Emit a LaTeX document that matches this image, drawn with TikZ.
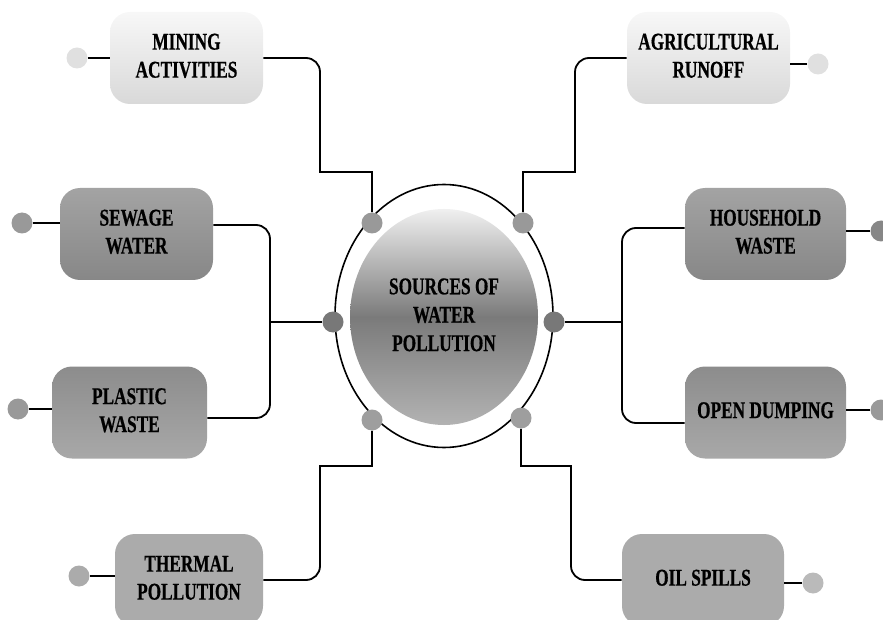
\documentclass[tikz,border=0pt]{standalone}
\usepackage{fontspec}
\setmainfont{Liberation Serif}[BoldFeatures={FakeBold=0.7}]
\usepackage{graphicx}
\usetikzlibrary{shapes.geometric}

\newcommand{\boxtext}[1]{\raisebox{-2.2pt}{\scalebox{0.72}[1]{\begin{tabular}{@{}c@{}}#1\end{tabular}}}}

\tikzset{
	srcbox/.style={rounded corners=10pt, minimum height=46pt, inner sep=0pt,
		font=\fontsize{12}{14}\selectfont\bfseries},
	lightbox/.style={srcbox, top color=black!3, bottom color=black!15},
	darkbox/.style={srcbox, top color=black!36, bottom color=black!47},
	midbox/.style={srcbox, top color=black!45, bottom color=black!34},
	palebox/.style={srcbox, fill=black!33},
	blob/.style={circle, inner sep=0pt, minimum size=10.5pt, fill=#1},
	link/.style={line width=0.9pt},
	stub/.style={line width=1.4pt}
}

\begin{document}
\begin{tikzpicture}[x=0.5pt, y=-0.5pt]
	\useasboundingbox (0,0) rectangle (883,620);
	\clip (0,0) rectangle (883,620);

	\node[lightbox, minimum width=76.5pt] (mining) at (186.5,58) {\boxtext{MINING\\ACTIVITIES}};
	\node[lightbox, minimum width=81.5pt] (agri) at (708.5,58) {\boxtext{AGRICULTURAL\\RUNOFF}};
	\node[darkbox, minimum width=76.5pt] (sewage) at (136.5,234) {\boxtext{SEWAGE\\WATER}};
	\node[darkbox, minimum width=80.5pt] (household) at (765.5,234) {\boxtext{HOUSEHOLD\\WASTE}};
	\node[midbox, minimum width=77.5pt] (plastic) at (129.5,412.5) {\boxtext{PLASTIC\\WASTE}};
	\node[midbox, minimum width=80.5pt] (dumping) at (765.5,412.5) {\boxtext{OPEN DUMPING}};
	\node[palebox, minimum width=74pt] (thermal) at (189,580) {\boxtext{THERMAL\\POLLUTION}};
	\node[palebox, minimum width=81pt] (oil) at (703,580) {\boxtext{OIL SPILLS}};

	\node[ellipse, draw, line width=0.8pt, fill=white, minimum width=109pt, minimum height=131.5pt] (outer) at (444,316) {};
	\node[ellipse, top color=black!6, bottom color=black!30, middle color=black!52,
		minimum width=94pt, minimum height=108pt, inner sep=0pt,
		font=\fontsize{12}{14.2}\selectfont\bfseries] (core) at (444,317) {\boxtext{SOURCES OF\\WATER\\POLLUTION}};

	\node[blob=black!40] (d1) at (372,223) {};
	\node[blob=black!40] (d2) at (523,223) {};
	\node[blob=black!53] (d3) at (333,322) {};
	\node[blob=black!53] (d4) at (554,322) {};
	\node[blob=black!38] (d5) at (372,420) {};
	\node[blob=black!38] (d6) at (521,418) {};

	\node[blob=black!12] (mDot) at (77,58) {};
	\node[blob=black!12] (aDot) at (818,64) {};
	\node[blob=black!40] (sDot) at (22,223) {};
	\node[blob=black!47] (hDot) at (881,231) {};
	\node[blob=black!40] (pDot) at (18,409) {};
	\node[blob=black!40] (oDot) at (881,410) {};
	\node[blob=black!33] (tDot) at (79,576) {};
	\node[blob=black!27] (lDot) at (813,583) {};

	\draw[stub] (mDot) -- (mDot -| mining.west);
	\draw[stub] (aDot) -- (aDot -| agri.east);
	\draw[stub] (sDot) -- (sDot -| sewage.west);
	\draw[stub] (hDot) -- (hDot -| household.east);
	\draw[stub] (pDot) -- (pDot -| plastic.west);
	\draw[stub] (oDot) -- (oDot -| dumping.east);
	\draw[stub] (tDot) -- (tDot -| thermal.west);
	\draw[stub] (lDot) -- (lDot -| oil.east);

	\draw[link] (mining.east) [rounded corners=7pt] -- (320,58) [sharp corners] -- (320,172) -- (372,172) -- (d1);
	\draw[link] (agri.west) [rounded corners=7pt] -- (575,58) [sharp corners] -- (575,172) -- (523,172) -- (d2);
	\draw[link] (thermal.east) [rounded corners=7pt] -- (320,580) [sharp corners] -- (320,466) -- (372,466) -- (d5);
	\draw[link] (oil.west) [rounded corners=7pt] -- (571,580) [sharp corners] -- (571,466) -- (521,466) -- (d6);

	\draw[link, rounded corners=7pt] (sewage.east |- 0,225) -| (270,320) |- (plastic.east |- 0,418);
	\draw[link, rounded corners=7pt] (household.west |- 0,228) -| (622,320) |- (dumping.west |- 0,423);
	\draw[stub] (d3) -- (d3 -| 270,0);
	\draw[stub] (d4) -- (d4 -| 622,0);
\end{tikzpicture}
\end{document}
